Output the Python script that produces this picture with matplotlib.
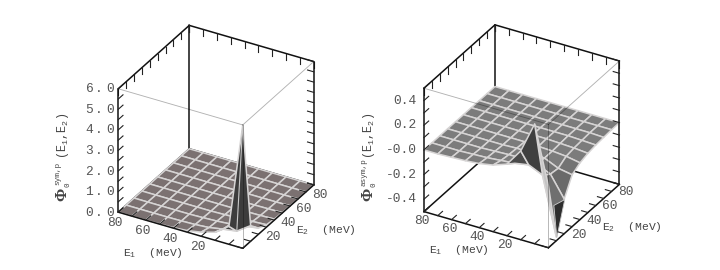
import numpy as np
import matplotlib
matplotlib.use("Agg")
import matplotlib.pyplot as plt
from mpl_toolkits.mplot3d import proj3d
from mpl_toolkits.mplot3d.art3d import Poly3DCollection

plt.rcParams['font.family'] = ['Liberation Mono', 'DejaVu Sans Mono']
plt.rcParams['mathtext.fontset'] = 'custom'
plt.rcParams['mathtext.rm'] = 'Liberation Mono'
plt.rcParams['mathtext.it'] = 'Liberation Mono'
plt.rcParams['mathtext.bf'] = 'Liberation Serif:bold'

W, H = 720, 270
S = 241.0

e_grid = [-10, 0, 10, 20, 30, 40, 50, 60, 70, 80]
e_labels = [20, 40, 60, 80]

# rows: E1 index, columns: E2 index
z_sym = [
    [6.00, 0.76, 0.30, 0.12, 0.05, 0.02, 0.01, 0.00, 0.00, 0.00],
    [0.87, 0.30, 0.20, 0.08, 0.03, 0.01, 0.00, 0.00, 0.00, 0.00],
    [0.39, 0.20, 0.10, 0.05, 0.02, 0.00, 0.00, 0.00, 0.00, 0.00],
    [0.20, 0.08, 0.05, 0.02, 0.00, 0.00, 0.00, 0.00, 0.00, 0.00],
    [0.08, 0.03, 0.02, 0.00, 0.00, 0.00, 0.00, 0.00, 0.00, 0.00],
    [0.03, 0.01, 0.00, 0.00, 0.00, 0.00, 0.00, 0.00, 0.00, 0.00],
    [0.01, 0.00, 0.00, 0.00, 0.00, 0.00, 0.00, 0.00, 0.00, 0.00],
    [0.00, 0.00, 0.00, 0.00, 0.00, 0.00, 0.00, 0.00, 0.00, 0.00],
    [0.00, 0.00, 0.00, 0.00, 0.00, 0.00, 0.00, 0.00, 0.00, 0.00],
    [0.00, 0.00, 0.00, 0.00, 0.00, 0.00, 0.00, 0.00, 0.00, 0.00],
]
z_asym = [
    [0.00, -0.47, -0.22, -0.08, -0.04, -0.02, -0.01, -0.005, 0.00, 0.00],
    [0.47, 0.00, -0.05, -0.06, -0.02, -0.01, -0.005, 0.00, 0.00, 0.00],
    [0.22, 0.05, 0.00, -0.01, -0.01, -0.005, 0.00, 0.00, 0.00, 0.00],
    [0.08, 0.03, 0.01, 0.00, -0.005, 0.00, 0.00, 0.00, 0.00, 0.00],
    [0.04, 0.02, 0.01, 0.005, 0.00, 0.00, 0.00, 0.00, 0.00, 0.00],
    [0.02, 0.01, 0.005, 0.00, 0.00, 0.00, 0.00, 0.00, 0.00, 0.00],
    [0.01, 0.005, 0.00, 0.00, 0.00, 0.00, 0.00, 0.00, 0.00, 0.00],
    [0.005, 0.00, 0.00, 0.00, 0.00, 0.00, 0.00, 0.00, 0.00, 0.00],
    [0.00, 0.00, 0.00, 0.00, 0.00, 0.00, 0.00, 0.00, 0.00, 0.00],
    [0.00, 0.00, 0.00, 0.00, 0.00, 0.00, 0.00, 0.00, 0.00, 0.00],
]

sym_ticks = np.arange(0, 6.01, 0.5)
sym_labels = ['0.0', '1.0', '2.0', '3.0', '4.0', '5.0', '6.0']
asym_ticks = np.arange(-0.5, 0.51, 0.1)
asym_labels = ['-0.4', '-0.2', '-0.0', '0.2', '0.4']


def put(ax, x, y, z, txt, dx, dy, ha='center'):
    px, py, _ = proj3d.proj_transform(x, y, z, ax.get_proj())
    ax.annotate(txt, (px, py), xytext=(dx, dy), textcoords='offset pixels', ha=ha, va='center',
                fontsize=9.3, color='#555555', annotation_clip=False, zorder=20)


def panel(cx, cy, Z, zlim, zticks, zlabels, flat, shades, wide, off_z, off_e1, off_e2):
    ax = fig.add_axes([(cx - 0.5135 * S) / W, (H - cy - 0.5135 * S) / H, S / W, S / H],
                      projection='3d', computed_zorder=False)
    ax.set_proj_type('ortho')
    ax.view_init(elev=30.6, azim=-150.3)
    ax.set_box_aspect((1, 1, 1))
    ax.set_axis_off()
    ax.patch.set_alpha(0)
    lo, hi = e_grid[0], e_grid[-1]
    zlo, zhi = zlim
    ax.set_xlim(lo, hi)
    ax.set_ylim(lo, hi)
    ax.set_zlim(zlo, zhi)

    black = dict(color='#111111', lw=1.1, zorder=1, solid_capstyle='round')
    # back part of the box
    ax.plot([lo, hi], [hi, hi], [zlo, zlo], **black)
    ax.plot([hi, hi], [lo, hi], [zlo, zlo], **black)
    ax.plot([hi, hi], [hi, hi], [zlo, zhi], **black)
    ax.plot([lo, hi], [hi, hi], [zhi, zhi], **black)
    ax.plot([hi, hi], [lo, hi], [zhi, zhi], **black)
    tick = dict(color='#222222', lw=0.8, zorder=1)
    dz = 0.053 * (zhi - zlo)
    for t in e_grid:
        ax.plot([t, t], [hi, hi], [zhi, zhi - dz], **tick)
        ax.plot([hi, hi], [t, t], [zhi, zhi - dz], **tick)

    X, Y = np.meshgrid(e_grid, e_grid)
    Zarr = np.array(Z)
    colors = np.empty(Zarr.shape, dtype=object)
    colors[:] = flat
    for (i, j), c in shades.items():
        colors[i, j] = c
    ax.plot_surface(X, Y, Zarr, rstride=1, cstride=1, facecolors=colors, shade=False,
                    edgecolor='#d6d4d4', linewidth=1.1, antialiased=True, zorder=5)

    # front part of the box
    thin = dict(color='k', alpha=0.3, lw=0.65, zorder=8)
    ax.plot([lo, lo], [hi, lo], [zhi, zhi], **thin)
    ax.plot([hi, lo], [lo, lo], [zhi, zhi], **thin)
    ax.plot([lo, lo], [lo, lo], [zlo, zhi], **thin)
    ax.plot([lo, lo], [lo, hi], [zlo, zlo], **dict(black, zorder=9))
    ax.plot([lo, hi], [lo, lo], [zlo, zlo], **dict(black, zorder=9))
    ax.plot([lo, lo], [hi, hi], [zlo, zhi], **dict(black, zorder=9))
    ax.plot([hi, hi], [lo, lo], [zlo, zhi], **dict(black, zorder=9))
    tick = dict(tick, zorder=9)
    for t in e_grid:
        ax.plot([lo, lo + 6], [t, t], [zlo, zlo], **tick)
        ax.plot([t, t], [lo, lo + 4.5], [zlo, zlo], **tick)
    for t in zticks:
        ax.plot([lo, lo + 6], [hi, hi], [t, t], **tick)
        ax.plot([hi, hi], [lo, lo + 4.5], [t, t], **tick)

    for s in zlabels:
        # the left panel has its digits spread apart
        shown = '$' + s.replace('.', r'\;.\;') + '$' if wide else s
        put(ax, lo, hi, float(s), shown, off_z, 0, ha='right')
    for v in e_labels:
        put(ax, lo, v, zlo, str(v), off_e1[0], off_e1[1])
        put(ax, v, lo, zlo, str(v), off_e2[0], off_e2[1])
    return ax


def phi_label(x, sup, sup_y):
    # the pieces of the rotated label have their own sizes in the reference
    kw = dict(ha='center', va='center', color='#444444', rotation=90)
    fig.text(x / W, 1 - 195 / H, '$\\mathbf{\\Phi}$', fontsize=11.5, **kw)
    fig.text((x + 5) / W, 1 - 185 / H, '0', fontsize=5.5, **kw)
    fig.text((x - 5) / W, 1 - sup_y / H, sup, fontsize=5.5, **kw)
    fig.text(x / W, 1 - 136 / H, '(E$_1$,E$_2$)', fontsize=8.5, **kw)


fig = plt.figure(figsize=(W / 100, H / 100), dpi=100, facecolor='white')

ax1 = panel(216.0, 136.85, z_sym, (0.0, 6.0), sym_ticks, sym_labels, '#7b7171',
            {(0, 0): '#3c3c3c', (0, 1): '#55504f', (1, 0): '#3a3a3a', (1, 1): '#6a6262'},
            True, -3, (-3, -11), (6, -10))
ax1.plot(e_grid[:2], e_grid[:2], [z_sym[0][0], z_sym[1][1]], color='#c8c8c8', lw=0.8, zorder=7)

ax2 = panel(521.7, 136.3, z_asym, (-0.5, 0.5), asym_ticks, asym_labels, '#7c7c7c',
            {(0, 0): '#c4c4c4', (1, 0): '#3f3f3f', (0, 1): '#6f6f6f', (0, 2): '#6a6a6a', (1, 1): '#6e6e6e',
             (2, 0): '#4a4a4a', (1, 2): '#747474', (0, 3): '#737373'},
            False, -7, (-2, -9), (6.5, -8))
# dark lower part of the downward spike
mid = (z_asym[0][1] + z_asym[1][1]) * 0.5 - 0.02
tri = [[(e_grid[1 + 1], e_grid[0], z_asym[0][2]), (e_grid[1], e_grid[0], z_asym[0][1]),
        (e_grid[1] * 0.5 + e_grid[2] * 0.5, e_grid[0] * 0.5 + e_grid[1] * 0.5, mid)]]
ax2.add_collection3d(Poly3DCollection(tri, facecolor='#2e2e2e', edgecolor='#d0d0d0', linewidth=0.6, zorder=6))

txt = dict(ha='center', va='center', color='#444444', fontsize=8.2)
fig.text(152.7 / W, 1 - 253.3 / H, 'E$_1$  (MeV)', **txt)
fig.text(326 / W, 1 - 230 / H, 'E$_2$  (MeV)', **txt)
fig.text(459.3 / W, 1 - 250 / H, 'E$_1$  (MeV)', **txt)
fig.text(632 / W, 1 - 226.7 / H, 'E$_2$  (MeV)', **txt)
phi_label(63, 'sym,p', 173)
phi_label(369, 'asym,p', 172)

fig.savefig('out.png', dpi=100)
